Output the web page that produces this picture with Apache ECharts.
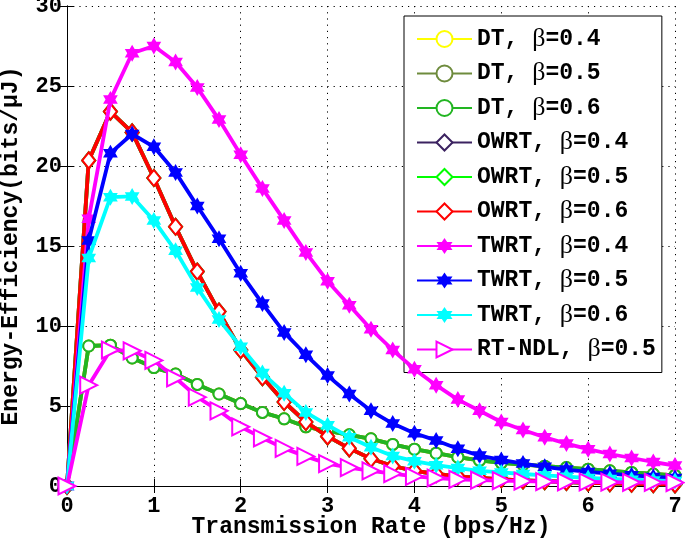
<!DOCTYPE html>
<html>
<head>
<meta charset="utf-8">
<script src="https://cdn.jsdelivr.net/npm/echarts@6/dist/echarts.min.js"></script>
<style>html,body{margin:0;padding:0;background:#fff;}#c{width:685px;height:538px;}</style>
</head>
<body>
<div id="c"></div>
<script>
const rates = [0,0.25,0.5,0.75,1,1.25,1.5,1.75,2,2.25,2.5,2.75,3,3.25,3.5,3.75,4,4.25,4.5,4.75,5,5.25,5.5,5.75,6,6.25,6.5,6.75,7];
const dtValues = [0,8.75,8.8,8.0,7.4,7.0,6.35,5.75,5.15,4.6,4.2,3.7,3.45,3.2,2.95,2.6,2.3,2.05,1.8,1.6,1.45,1.33,1.24,1.15,1.05,0.95,0.85,0.75,0.66];
const owrtValues = [0,20.35,23.4,22.1,19.25,16.2,13.4,10.9,8.5,6.8,5.25,4.0,3.1,2.35,1.7,1.25,0.95,0.75,0.6,0.5,0.42,0.35,0.3,0.25,0.2,0.17,0.14,0.12,0.1];
const twrt04 = [0,16.7,24.15,27.05,27.5,26.5,24.9,22.9,20.7,18.6,16.6,14.6,12.8,11.3,9.8,8.5,7.3,6.3,5.4,4.7,4.0,3.5,3.05,2.65,2.3,2.0,1.75,1.5,1.28];
const twrt05 = [0,15.35,20.8,22.0,21.2,19.6,17.5,15.45,13.3,11.4,9.6,8.2,6.9,5.75,4.7,3.9,3.3,2.85,2.33,1.9,1.63,1.4,1.2,1.03,0.88,0.77,0.67,0.57,0.5];
const twrt06 = [0,14.25,18.05,18.1,16.6,14.7,12.4,10.4,8.7,7.06,5.8,4.6,3.8,3.05,2.42,1.88,1.55,1.3,1.12,0.95,0.85,0.75,0.66,0.58,0.5,0.44,0.39,0.35,0.31];
const rtndl05 = [0,6.3,8.5,8.45,7.85,6.75,5.55,4.7,3.7,3.0,2.35,1.85,1.4,1.15,0.95,0.77,0.6,0.5,0.42,0.37,0.33,0.3,0.28,0.26,0.25,0.24,0.23,0.22,0.21];
const seriesNames = ['DT, β=0.4','DT, β=0.5','DT, β=0.6','OWRT, β=0.4','OWRT, β=0.5','OWRT, β=0.6','TWRT, β=0.4','TWRT, β=0.5','TWRT, β=0.6','RT-NDL, β=0.5'];
const seriesValues = [dtValues,dtValues,dtValues,owrtValues,owrtValues,owrtValues,twrt04,twrt05,twrt06,rtndl05];
const xTicks = [0,1,2,3,4,5,6,7];
const yTicks = [0,5,10,15,20,25,30];

const colors = ['#FFFF00','#6E8B3D','#22B522','#3B2260','#00FF00','#FF0000','#FF00FF','#0000FF','#00FFFF','#FF00FF'];
const hexagram = 'path://M100,0L128.87,50L186.6,50L157.7,100L186.6,150L128.87,150L100,200L71.13,150L13.4,150L42.3,100L13.4,50L71.13,50Z';
const FONT = 'Liberation Mono';

function markerFor(i){
  if (i < 3) return {symbol:'emptyCircle', size:11, bw:2.8, rot:0};
  if (i < 6) return {symbol:'emptyDiamond', size:[13,16], bw:3, rot:0};
  if (i < 9) return {symbol:hexagram, size:17, bw:0, rot:0};
  return {symbol:'emptyTriangle', size:17, bw:3, rot:-90};
}

const series = seriesNames.map((name,i)=>{
  const m = markerFor(i);
  return {
    name: name,
    type: 'line',
    data: rates.map((x,k)=>[x, seriesValues[i][k]]),
    symbol: m.symbol,
    symbolSize: m.size,
    symbolRotate: m.rot,
    symbolKeepAspect: true,
    showAllSymbol: true,
    clip: false,
    lineStyle: {color: colors[i], width: 3.8},
    itemStyle: {color: colors[i], borderColor: colors[i], borderWidth: m.bw},
    emphasis: {disabled: true},
    z: 2 + i,
    animation: false
  };
});

const chart = echarts.init(document.getElementById('c'), null, {renderer:'canvas'});
const axisCommon = {
  axisLine: {show:true, lineStyle:{color:'#000', width:1}},
  axisTick: {show:true, inside:true, length:7, lineStyle:{color:'#000', width:1}},
};
chart.setOption({
  animation: false,
  backgroundColor: '#fff',
  grid: {left: 67, right: 10, top: 6, bottom: 52, containLabel: false, outerBoundsMode: 'none'},
  legend: {
    orient: 'vertical',
    left: 404, top: 16,
    padding: [10, 6, 10, 12],
    backgroundColor: '#fff',
    borderColor: '#000', borderWidth: 1,
    itemWidth: 55, itemHeight: 20, itemGap: 8.5,
    data: seriesNames,
    formatter: n => n.replace('β','{b|β}'),
    textStyle: {
      fontFamily: FONT, fontWeight: 'bold', fontSize: 23, color: '#000',
      rich: {b: {fontFamily: 'Liberation Serif', fontSize: 26, fontWeight: 'normal', color: '#000'}}
    },
    selectedMode: false
  },
  xAxis: [{
    type: 'value', min: 0, max: 7, interval: 1,
    name: 'Transmission Rate (bps/Hz)', nameLocation: 'middle', nameGap: 30, nameMoveOverlap: false,
    nameTextStyle: {fontFamily: FONT, fontWeight: 'bold', fontSize: 23, color: '#000'},
    axisLabel: {fontFamily: FONT, fontWeight: 'bold', fontSize: 22, color: '#000', margin: 9,
      formatter: v => xTicks.includes(v) ? String(v) : ''},
    splitLine: {show: true, lineStyle: {color: '#000', type: [1.2, 5], width: 1}},
    ...axisCommon
  },{
    type: 'value', min: 0, max: 7, interval: 1, position: 'top',
    axisLabel: {show:false}, splitLine: {show:false},
    ...axisCommon
  }],
  yAxis: [{
    type: 'value', min: 0, max: 30, interval: 5,
    name: 'Energy-Efficiency(bits/μJ)', nameLocation: 'middle', nameGap: 44, nameMoveOverlap: false,
    nameTextStyle: {fontFamily: FONT, fontWeight: 'bold', fontSize: 23, color: '#000'},
    axisLabel: {fontFamily: FONT, fontWeight: 'bold', fontSize: 22, color: '#000', margin: 5,
      formatter: v => yTicks.includes(v) ? String(v) : ''},
    splitLine: {show: true, lineStyle: {color: '#000', type: [1.2, 5], width: 1}},
    ...axisCommon
  },{
    type: 'value', min: 0, max: 30, interval: 5, position: 'right',
    axisLabel: {show:false}, splitLine: {show:false},
    ...axisCommon
  }],
  series: series
});
</script>
</body>
</html>
